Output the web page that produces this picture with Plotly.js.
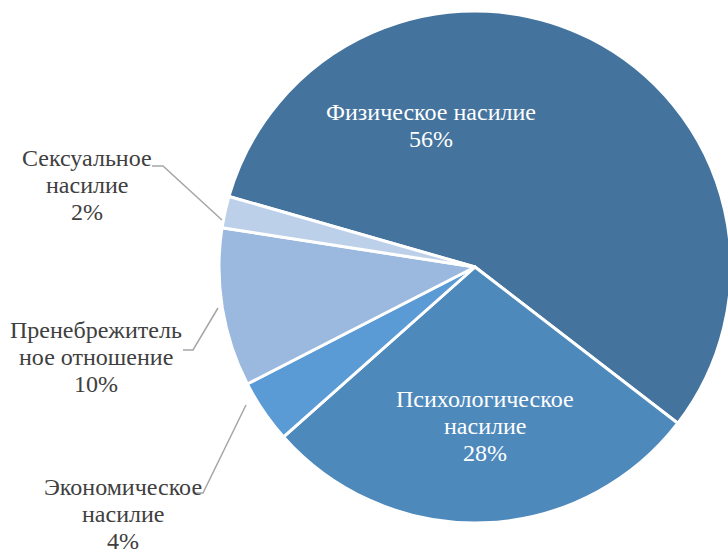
<!DOCTYPE html>
<html>
<head>
<meta charset="utf-8">
<script src="https://cdn.plot.ly/plotly-3.0.1.min.js"></script>
<style>
html,body{margin:0;padding:0;overflow:hidden;background:#fff;width:728px;height:549px;}
#chart{width:760px;height:549px;}
</style>
</head>
<body>
<div id="chart"></div>
<script>
const categories = ["Физическое насилие", "Психологическое насилие", "Экономическое насилие", "Пренебрежительное отношение", "Сексуальное насилие"];
const labelLines = [["Физическое насилие"], ["Психологическое", "насилие"], ["Экономическое", "насилие"], ["Пренебрежитель", "ное отношение"], ["Сексуальное", "насилие"]];
const values = [56, 28, 4, 10, 2];
const colors = ["#44739d", "#4e89bc", "#5b9bd5", "#9bb9df", "#bdd0ea"];

const W = 760, H = 549;
const px = x => x / W;
const py = y => 1 - y / H;

const total = values.reduce((a, b) => a + b, 0);
const pct = values.map(v => Math.round(v / total * 100) + "%");

const labelPos = [
  {x: 431, y: 112, color: "#ffffff"},
  {x: 485, y: 399, color: "#ffffff"},
  {x: 123, y: 487, color: "#404040"},
  {x: 96, y: 330, color: "#404040"},
  {x: 87, y: 158, color: "#404040"}
];
const LINE_GAP = 27;
const FONT = "Liberation Serif";

const annotations = [];
categories.forEach((c, i) => {
  const lines = labelLines[i].concat([pct[i]]);
  lines.forEach((t, k) => {
    annotations.push({
      xref: "paper", yref: "paper",
      x: px(labelPos[i].x), y: py(labelPos[i].y + k * LINE_GAP),
      xanchor: "center", yanchor: "middle",
      text: t,
      showarrow: false,
      font: {family: FONT, size: 24, color: labelPos[i].color}
    });
  });
});

const leaders = [
  [[222, 220], [163, 166], [152, 166]],
  [[218, 308], [193, 350], [183, 350]],
  [[246, 405], [203, 493], [195, 493]]
];
const shapes = leaders.map(pts => ({
  type: "path", xref: "paper", yref: "paper",
  path: "M " + pts.map(p => px(p[0]) + "," + py(p[1])).join(" L "),
  line: {color: "#a6a6a6", width: 1.5}
}));

const data = [{
  type: "pie",
  labels: categories,
  values: values,
  sort: false,
  direction: "clockwise",
  rotation: -74,
  textinfo: "none",
  hoverinfo: "label+percent",
  marker: {colors: colors, line: {color: "#ffffff", width: 3}},
  domain: {x: [px(219), px(731)], y: [py(523), py(11)]},
  showlegend: false
}];

const layout = {
  width: W, height: H,
  margin: {l: 0, r: 0, t: 0, b: 0},
  paper_bgcolor: "#ffffff",
  font: {family: FONT},
  showlegend: false,
  annotations: annotations,
  shapes: shapes
};

Plotly.newPlot("chart", data, layout, {displayModeBar: false, staticPlot: true});
</script>
</body>
</html>
